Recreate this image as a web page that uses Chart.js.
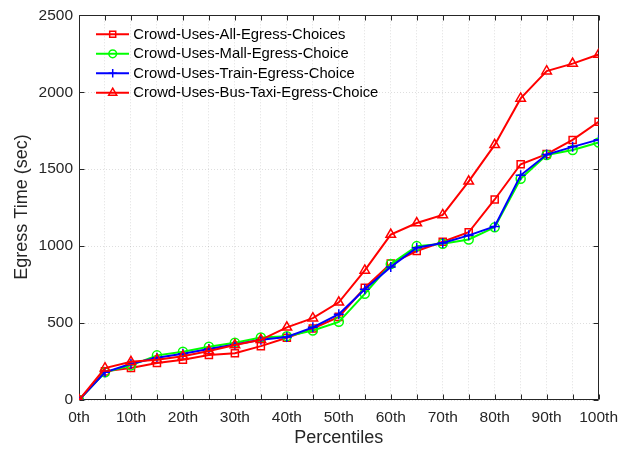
<!DOCTYPE html>
<html>
<head>
<meta charset="utf-8">
<script src="https://cdn.jsdelivr.net/npm/chart.js@4/dist/chart.umd.min.js"></script>
<style>
html,body{margin:0;padding:0;background:#fff;}
#wrap{width:626px;height:450px;position:relative;}
</style>
</head>
<body>
<div id="wrap"><canvas id="c" width="626" height="450"></canvas></div>
<script>
// ---- data ----
const percentiles = [0,5,10,15,20,25,30,35,40,45,50,55,60,65,70,75,80,85,90,95,100];
const xTickLabels = ['0th','','10th','','20th','','30th','','40th','','50th','','60th','','70th','','80th','','90th','','100th'];
const yTicks = [0,500,1000,1500,2000,2500];
const yTickLabels = ['0','500','1000','1500','2000','2500'];
const seriesNames = ['Crowd-Uses-All-Egress-Choices','Crowd-Uses-Mall-Egress-Choice','Crowd-Uses-Train-Egress-Choice','Crowd-Uses-Bus-Taxi-Egress-Choice'];
const allChoices = [0,186,208,240,261,293,304,350,405,465,540,729,887,968,1028,1090,1303,1532,1598,1690,1808];
const mallChoice = [0,180,225,290,314,346,372,406,415,452,508,690,883,1000,1015,1043,1122,1438,1592,1625,1673];
const trainChoice = [0,180,235,275,300,332,360,392,410,472,558,720,865,990,1020,1070,1128,1460,1595,1645,1692];
const busTaxiChoice = [0,207,248,262,284,318,357,391,472,532,635,842,1075,1150,1203,1421,1658,1960,2137,2186,2245];
const xTitle = 'Percentiles';
const yTitle = 'Egress Time (sec)';

const FONT = "'Liberation Sans', Arial, sans-serif";
const AXC = '#262626';

function pts(vals){ return vals.map((v,i)=>({x:percentiles[i], y:v})); }
function ds(label, vals, color, style, radius, order){
  return {label, data:pts(vals), borderColor:color, backgroundColor:'rgba(0,0,0,0)',
    borderWidth:2, pointStyle:style, pointRadius:radius, pointBorderWidth:1.5,
    pointBorderColor:color, pointBackgroundColor:'rgba(0,0,0,0)', tension:0, order};
}

const framePlugin = {
  id:'frame',
  beforeDatasetsDraw(chart){
    const {ctx, chartArea:a, scales:{x,y}} = chart;
    const L=Math.round(a.left)+0.5, R=Math.round(a.right)-0.5, T=Math.round(a.top)+0.5, B=Math.round(a.bottom)-0.5;
    ctx.save();
    ctx.strokeStyle=AXC; ctx.lineWidth=1; ctx.setLineDash([]);
    ctx.beginPath(); ctx.rect(L,T,R-L,B-T); ctx.stroke();
    const tl=5;
    ctx.beginPath();
    percentiles.forEach(p=>{
      const px=Math.round(x.getPixelForValue(p))+0.5;
      ctx.moveTo(px,B); ctx.lineTo(px,B-tl);
      ctx.moveTo(px,T); ctx.lineTo(px,T+tl);
    });
    yTicks.forEach(v=>{
      const py=Math.round(y.getPixelForValue(v))+0.5;
      ctx.moveTo(L,py); ctx.lineTo(L+tl,py);
      ctx.moveTo(R,py); ctx.lineTo(R-tl,py);
    });
    ctx.stroke();
    ctx.restore();
  },
  afterDraw(chart){
    const {ctx, chartArea:a} = chart;
    ctx.save();
    ctx.fillStyle=AXC;
    ctx.font="18px "+FONT;
    ctx.textAlign='center'; ctx.textBaseline='middle';
    ctx.fillText(xTitle, (a.left+a.right)/2, 438);
    ctx.translate(22, 207); ctx.rotate(-Math.PI/2);
    ctx.fillText(yTitle, 0, 0);
    ctx.restore();
    // legend inside the axes
    ctx.save();
    ctx.font="14.8px "+FONT;
    ctx.textBaseline='middle'; ctx.textAlign='left';
    chart.data.datasets.forEach((d,i)=>{
      const yy = 34.3 + i*19.5;
      ctx.strokeStyle=d.borderColor; ctx.lineWidth=2; ctx.setLineDash([]);
      ctx.beginPath(); ctx.moveTo(96,yy); ctx.lineTo(129,yy); ctx.stroke();
      ctx.lineWidth=1.5;
      ctx.fillStyle='rgba(0,0,0,0)';
      Chart.helpers.drawPoint(ctx,{pointStyle:d.pointStyle, radius:d.pointRadius*0.85, borderWidth:1.5, rotation:0}, 112.7, yy);
      ctx.fillStyle='#000';
      ctx.fillText(d.label, 133.3, yy+0.5);
    });
    ctx.restore();
  }
};

new Chart(document.getElementById('c'), {
  type:'line',
  data:{ datasets:[
    ds(seriesNames[0], allChoices, '#ff0000', 'rect', 5, 3),
    ds(seriesNames[1], mallChoice, '#00ff00', 'circle', 4.5, 2),
    ds(seriesNames[2], trainChoice, '#0000ff', 'cross', 5, 1),
    ds(seriesNames[3], busTaxiChoice, '#ff0000', 'triangle', 5.5, 0)
  ]},
  options:{
    responsive:false, animation:false, devicePixelRatio:1,
    layout:{padding:{left:0,right:27,top:12,bottom:0}},
    plugins:{legend:{display:false}, tooltip:{enabled:false}},
    scales:{
      x:{type:'linear', min:0, max:100,
        afterFit(s){ s.height=50; },
        afterBuildTicks(s){ s.ticks = percentiles.map(v=>({value:v})); },
        ticks:{padding:8, maxRotation:0, autoSkip:false, color:AXC, font:{family:FONT,size:15.5},
          callback:(v)=>{ const i=percentiles.indexOf(v); return i>=0 ? xTickLabels[i] : ''; }},
        grid:{drawTicks:false, color:'rgba(0,0,0,0.13)', lineWidth:1},
        border:{display:false, dash:[1,2]}
      },
      y:{type:'linear', min:0, max:2500,
        afterFit(s){ s.width=79; },
        afterBuildTicks(s){ s.ticks = yTicks.map(v=>({value:v})); },
        ticks:{padding:6, color:AXC, font:{family:FONT,size:15.5},
          callback:(v)=>{ const i=yTicks.indexOf(v); return i>=0 ? yTickLabels[i] : ''; }},
        grid:{drawTicks:false, color:'rgba(0,0,0,0.13)', lineWidth:1},
        border:{display:false, dash:[1,2]}
      }
    }
  },
  plugins:[framePlugin]
});
</script>
</body>
</html>
